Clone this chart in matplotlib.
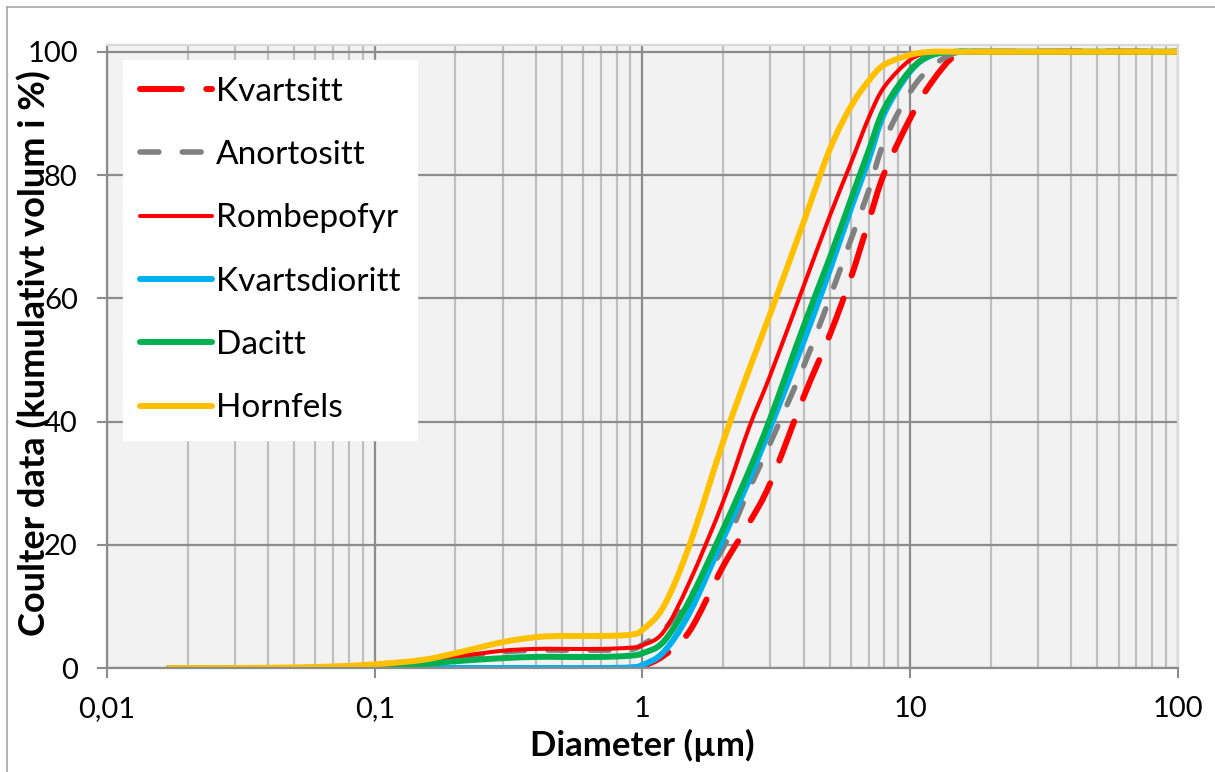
import numpy as np
import matplotlib
matplotlib.use('Agg')
import matplotlib.pyplot as plt
from matplotlib.ticker import FixedLocator, FixedFormatter, LogLocator, NullFormatter
from matplotlib.path import Path
from matplotlib.patches import PathPatch
from matplotlib.lines import Line2D

plt.rcParams['font.family'] = ['Lato', 'DejaVu Sans']

# particle diameter (µm) and cumulative volume (%) per rock type
diameter = [0.017, 0.03, 0.05, 0.07, 0.1, 0.15, 0.2, 0.3, 0.4, 0.5, 0.7, 0.9,
            1.0, 1.2, 1.5, 2.0, 2.5, 3.0, 4.0, 5.0, 6.0, 7.0, 8.0, 10, 12, 15, 20, 100]
nan = np.nan
kvartsitt = [nan, nan, nan, nan, nan, nan, nan, nan, nan, nan, nan, 0.0,
             0.3, 2.0, 6.0, 16.5, 23.5, 30.0, 44.0, 54.0, 63.3, 72.5, 80.3, 89.2, 95.0, 99.6, 100, 100]
anortositt = [0, 0, 0, 0.1, 0.3, 0.9, 1.7, 2.6, 2.9, 2.9, 2.9, 3.0,
              3.8, 6.2, 11.5, 19.5, 29.0, 36.5, 49.0, 60.0, 69.5, 77.5, 85.5, 93.5, 97.5, 99.9, 100, 100]
rombepofyr = [0, 0, 0, 0.1, 0.3, 0.9, 1.8, 2.8, 3.1, 3.1, 3.1, 3.3,
              3.7, 5.9, 14.0, 27.0, 39.0, 47.5, 62.0, 73.3, 81.9, 89.3, 94.3, 98.7, 99.9, 100, 100, 100]
kvartsdioritt = [0, 0, 0, 0, 0, 0, 0, 0, 0, 0, 0, 0.1,
                 0.5, 2.6, 9.0, 21.0, 30.5, 39.0, 53.0, 64.5, 74.5, 82.5, 90.0, 96.8, 99.4, 100, 100, 100]
dacitt = [0, 0, 0, 0.05, 0.2, 0.6, 1.1, 1.6, 1.8, 1.8, 1.8, 2.0,
          2.4, 4.3, 11.0, 22.5, 32.0, 40.5, 55.5, 66.5, 76.0, 84.0, 90.8, 97.0, 99.5, 100, 100, 100]
hornfels = [0, 0, 0.1, 0.25, 0.6, 1.3, 2.4, 4.2, 5.0, 5.2, 5.2, 5.4,
            6.2, 10.0, 20.0, 36.7, 48.4, 57.5, 72.4, 84.1, 91.1, 95.3, 97.9, 99.5, 100, 100, 100, 100]

xtick_vals = [0.01, 0.1, 1, 10, 100]
xtick_labels = ['0,01', '0,1', '1', '10', '100']
ytick_vals = [0, 20, 40, 60, 80, 100]

series = [
    ('Kvartsitt', kvartsitt, '#FF0000', 4.3, (7.0, 4.1)),
    ('Anortositt', anortositt, '#808080', 4.0, (3.4, 4.2)),
    ('Rombepofyr', rombepofyr, '#FF0000', 2.9, None),
    ('Kvartsdioritt', kvartsdioritt, '#00B0F0', 4.3, None),
    ('Dacitt', dacitt, '#00B050', 4.3, None),
    ('Hornfels', hornfels, '#FFC000', 4.3, None),
]


def smooth_path(x, y):
    # cubic Bezier through the points, built in log10(x) space
    x = np.asarray(x, float)
    y = np.asarray(y, float)
    ok = ~np.isnan(y)
    pts = np.column_stack([np.log10(x[ok]), y[ok]])
    n = len(pts)
    verts = [pts[0]]
    codes = [Path.MOVETO]
    for i in range(n - 1):
        p0 = pts[i - 1] if i > 0 else pts[i]
        p1, p2 = pts[i], pts[i + 1]
        p3 = pts[i + 2] if i + 2 < n else pts[i + 1]
        verts += [p1 + (p2 - p0) / 6, p2 - (p3 - p1) / 6, p2]
        codes += [Path.CURVE4] * 3
    verts = np.array(verts)
    verts[:, 0] = 10 ** verts[:, 0]
    return Path(verts, codes)


fig = plt.figure(figsize=(12.15, 7.72), dpi=100)
ax = fig.add_axes([0.0881, 0.1347, 0.8814, 0.807])
ax.set_facecolor('#F2F2F2')
ax.set_xscale('log')
ax.set_xlim(0.01, 100)
ax.set_ylim(0, 101.1)

handles = []
for name, vals, color, lw, dash in series:
    ls = (0, dash) if dash else '-'
    patch = PathPatch(smooth_path(diameter, vals), fill=False, edgecolor=color,
                      lw=lw, linestyle=ls, capstyle='round', joinstyle='round', zorder=2)
    ax.add_patch(patch)
    if dash:
        h = Line2D([], [], color=color, lw=lw, dashes=dash, dash_capstyle='round')
    else:
        h = Line2D([], [], color=color, lw=lw, solid_capstyle='round')
    handles.append(h)

# axes, ticks and grid
ax.xaxis.set_major_locator(FixedLocator(xtick_vals))
ax.xaxis.set_major_formatter(FixedFormatter(xtick_labels))
ax.xaxis.set_minor_locator(LogLocator(base=10, subs=np.arange(2, 10)))
ax.xaxis.set_minor_formatter(NullFormatter())
ax.set_yticks(ytick_vals)
ax.grid(which='major', axis='both', color='#8C8C8C', lw=1.6)
ax.grid(which='minor', axis='x', color='#BFBFBF', lw=1.6)
ax.set_axisbelow(True)
ax.tick_params(which='major', length=7, width=1.5, color='#8C8C8C',
               labelsize=21, direction='out')
ax.tick_params(axis='x', pad=13)
ax.tick_params(axis='y', pad=14)
ax.tick_params(which='minor', length=0)
for side in ('left', 'bottom'):
    ax.spines[side].set_color('#8C8C8C')
    ax.spines[side].set_linewidth(1.6)
for side in ('top', 'right'):
    ax.spines[side].set_color('#D9D9D9')
    ax.spines[side].set_linewidth(1.6)

ax.set_xlabel('Diameter (µm)', fontsize=25, fontweight='bold', labelpad=5)
ax.set_ylabel('Coulter data (kumulativt volum i %)', fontsize=26, fontweight='bold')
ax.yaxis.set_label_coords(-0.052, 0.506)

ax.legend(handles, [s[0] for s in series], loc='upper left',
          bbox_to_anchor=(0.015, 0.976), fontsize=24,
          frameon=True, fancybox=False, framealpha=1, edgecolor='white',
          handlelength=2.16, handletextpad=0.12, labelspacing=1.0,
          borderpad=0.5, borderaxespad=0)

# chart area border (left and top edges)
fig.add_artist(Line2D([0.006, 0.006], [0.0, 0.991], transform=fig.transFigure,
                      color='#A6A6A6', lw=1.2))
fig.add_artist(Line2D([0.006, 1.0], [0.991, 0.991], transform=fig.transFigure,
                      color='#A6A6A6', lw=1.2))

fig.savefig('out.png', dpi=100)
